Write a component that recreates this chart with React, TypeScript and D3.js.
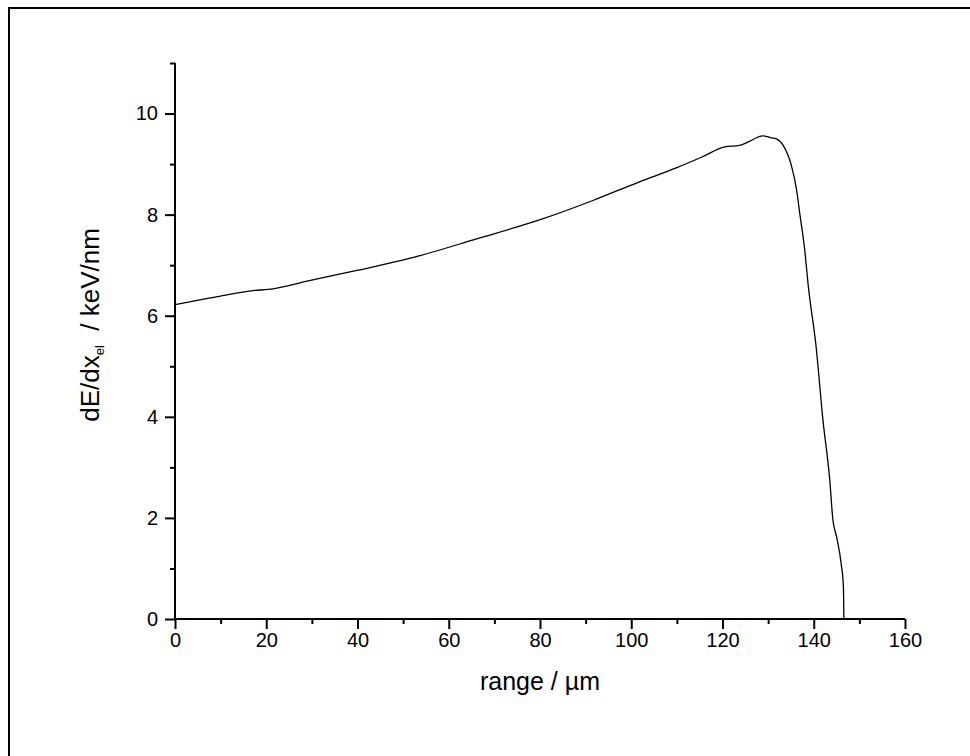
// App.tsx
import React, { useEffect, useRef } from 'react';
import * as d3 from 'd3';

// range in µm
const rangeUm: number[] = [0, 8.8, 17.5, 20.4, 29.2, 40.1, 52.5, 66.1, 80.7, 91.6, 101.8, 110.0, 115.5, 120.5, 123.7, 125.9, 128.8, 130.7, 131.8, 133.3, 135.1, 136.2, 137.0, 138.0, 138.8, 140.5, 142.0, 143.5, 144.2, 145.0, 146.0, 146.5, 146.6];
// electronic stopping dE/dx in keV/nm
const dEdx: number[] = [6.22, 6.37, 6.50, 6.52, 6.69, 6.90, 7.16, 7.52, 7.92, 8.28, 8.65, 8.93, 9.14, 9.34, 9.37, 9.45, 9.56, 9.52, 9.50, 9.37, 8.97, 8.51, 7.98, 7.32, 6.59, 5.40, 3.95, 2.76, 1.96, 1.63, 1.10, 0.64, 0];

const xTicks: number[] = [0, 20, 40, 60, 80, 100, 120, 140, 160];
const yTicks: number[] = [0, 2, 4, 6, 8, 10];

function App() {
    const svgRef = useRef<SVGSVGElement>(null);

    useEffect(() => {
        const width = 970;
        const height = 756;
        const margin = { top: 63, right: 65, bottom: 137, left: 175 };
        const font = '"Liberation Sans", Arial, sans-serif';

        const svg = d3.select(svgRef.current);
        svg.selectAll('*').remove();
        svg.attr('width', width).attr('height', height);

        // frame around the figure
        svg.append('rect')
            .attr('x', 9)
            .attr('y', 8)
            .attr('width', width + 10)
            .attr('height', height + 10)
            .attr('fill', 'white')
            .attr('stroke', 'black')
            .attr('stroke-width', 2);

        const x = d3.scaleLinear()
            .domain([0, 160])
            .range([margin.left, width - margin.right]);

        const y = d3.scaleLinear()
            .domain([0, 11])
            .range([height - margin.bottom, margin.top]);

        // x axis with minor ticks
        const gx = svg.append('g')
            .attr('transform', `translate(0,${height - margin.bottom})`);
        gx.call(d3.axisBottom(x).tickValues(d3.range(0, 161, 10)).tickSize(5).tickFormat(() => ''));
        gx.selectAll('.tick')
            .filter((d: any) => xTicks.includes(d))
            .select('line').attr('y2', 10);
        gx.selectAll('.tick')
            .filter((d: any) => xTicks.includes(d))
            .select('text')
            .text((d: any) => d)
            .attr('y', 14);

        // y axis with minor ticks
        const gy = svg.append('g')
            .attr('transform', `translate(${margin.left},0)`);
        gy.call(d3.axisLeft(y).tickValues(d3.range(0, 12, 1)).tickSize(5).tickFormat(() => ''));
        gy.selectAll('.tick')
            .filter((d: any) => yTicks.includes(d))
            .select('line').attr('x2', -10);
        gy.selectAll('.tick')
            .filter((d: any) => yTicks.includes(d))
            .select('text')
            .text((d: any) => d)
            .attr('x', -17);

        svg.selectAll('.domain').attr('stroke-width', 2);
        gx.select('.domain').attr('d', `M${x(0)},0H${x(160)}`);
        gy.select('.domain').attr('d', `M0,${y(0)}V${y(11)}`);
        svg.selectAll('.tick line').attr('stroke-width', 2);
        svg.selectAll('.tick text')
            .attr('font-family', font)
            .attr('font-size', 20)
            .attr('fill', 'black');

        // the curve
        const line = d3.line<number>()
            .x((d, i) => x(rangeUm[i]))
            .y(d => y(d))
            .curve(d3.curveMonotoneX);

        svg.append('path')
            .datum(dEdx)
            .attr('d', line)
            .attr('fill', 'none')
            .attr('stroke', 'black')
            .attr('stroke-width', 1.3);

        // axis titles
        svg.append('text')
            .attr('x', (x(0) + x(160)) / 2)
            .attr('y', 690)
            .attr('text-anchor', 'middle')
            .attr('font-family', font)
            .attr('font-size', 25)
            .text('range / µm');

        const yt = svg.append('text')
            .attr('transform', 'translate(99,325) rotate(-90)')
            .attr('text-anchor', 'middle')
            .attr('font-family', font)
            .attr('font-size', 26);
        yt.append('tspan').text('dE/dx');
        yt.append('tspan').attr('font-size', 13).attr('dy', 5).text('el');
        yt.append('tspan').attr('dy', -5).text('\u00a0\u00a0/ keV/nm');
    }, []);

    return (
        <svg ref={svgRef} style={{ position: 'absolute', left: 0, top: 0, display: 'block' }}></svg>
    );
}

export default App;
